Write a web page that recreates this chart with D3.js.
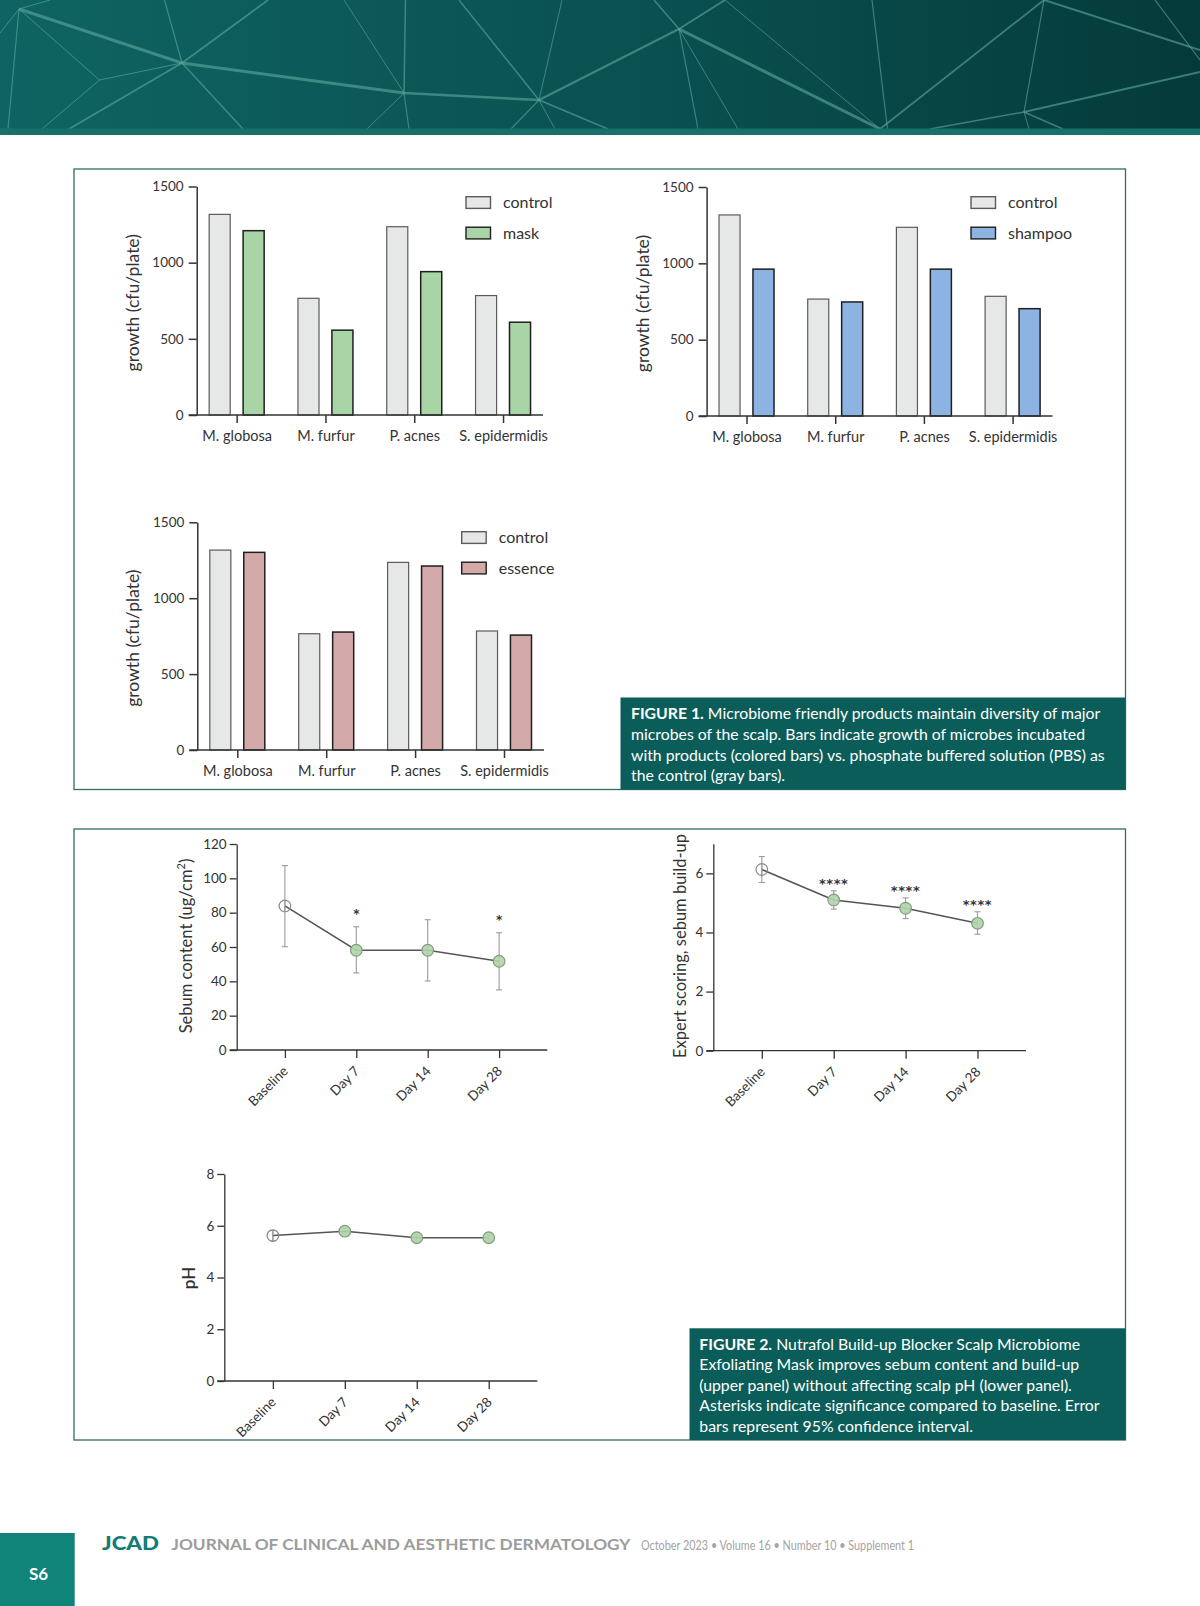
<!DOCTYPE html>
<html>
<head>
<meta charset="utf-8">
<script src="https://cdn.jsdelivr.net/npm/d3@7"></script>
<style>
  body { margin: 0; background: #fff; }
  svg { display: block; font-family: Lato, "Open Sans", sans-serif; }
</style>
</head>
<body>
<script>
// Figure 1: growth of scalp microbes (cfu/plate), control vs. product
const microbes = ["M. globosa", "M. furfur", "P. acnes", "S. epidermidis"];
const controlGrowth = [1317, 766, 1236, 784];
const maskGrowth = [1210, 557, 941, 609];
const shampooGrowth = [962, 747, 962, 703];
const essenceGrowth = [1302, 777, 1212, 757];
const growthTicks = [0, 500, 1000, 1500];

// Figure 2: time course, mean with 95% CI
const timepoints = ["Baseline", "Day 7", "Day 14", "Day 28"];
const sebumMean = [83.9, 58.1, 58.1, 51.7];
const sebumLow = [60.2, 44.9, 40.2, 35.0];
const sebumHigh = [107.4, 71.8, 75.9, 68.3];
const sebumSig = ["", "*", "", "*"];
const sebumTicks = [0, 20, 40, 60, 80, 100, 120];

const expertMean = [6.13, 5.10, 4.82, 4.31];
const expertLow = [5.69, 4.79, 4.47, 3.94];
const expertHigh = [6.57, 5.41, 5.17, 4.70];
const expertSig = ["", "****", "****", "****"];
const expertTicks = [0, 2, 4, 6];

const phMean = [5.62, 5.79, 5.54, 5.54];
const phLow = [5.42, 5.68, 5.44, 5.44];
const phHigh = [5.82, 5.90, 5.64, 5.64];
const phSig = ["", "", "", ""];
const phTicks = [0, 2, 4, 6, 8];

const caption1 = [
    ["FIGURE 1.", " Microbiome friendly products maintain diversity of major"],
    ["", "microbes of the scalp. Bars indicate growth of microbes incubated"],
    ["", "with products (colored bars) vs. phosphate buffered solution (PBS) as"],
    ["", "the control (gray bars)."]
];
const caption2 = [
    ["FIGURE 2.", " Nutrafol Build-up Blocker Scalp Microbiome"],
    ["", "Exfoliating Mask improves sebum content and build-up"],
    ["", "(upper panel) without affecting scalp pH (lower panel)."],
    ["", "Asterisks indicate significance compared to baseline. Error"],
    ["", "bars represent 95% confidence interval."]
];

const svg = d3.select("body").append("svg")
    .attr("width", 1200)
    .attr("height", 1606);

// ---------- header banner ----------
const defs = svg.append("defs");
const grad = defs.append("linearGradient").attr("id", "bannerGrad");
grad.append("stop").attr("offset", "0%").attr("stop-color", "#0e6462");
grad.append("stop").attr("offset", "55%").attr("stop-color", "#0a5050");
grad.append("stop").attr("offset", "100%").attr("stop-color", "#053a3a");

svg.append("rect").attr("x", 0).attr("y", 0).attr("width", 1200).attr("height", 129)
    .attr("fill", "url(#bannerGrad)");

// decorative network lines in the banner
const P = {
    A: [19, 9], B: [182, 63], C: [99.5, 80], D: [404, 93], E: [539, 100],
    F: [679, 29], G: [880, 129], H: [1024, 112], I: [1044, 0]
};
const bannerLines = [
    [P.A, P.B, 3], [P.B, P.D, 3], [P.D, P.E, 2.5], [P.E, P.F, 2.2], [P.F, P.G, 3],
    [P.A, [50, 0], 1], [P.A, [0, 33], 1], [P.A, [8, 129], 1.2], [P.A, P.C, 1],
    [P.C, P.B, 1.2], [P.C, [42, 129], 1], [P.B, [164.5, 0], 1.2], [P.B, [268, 0], 1.8],
    [P.B, [69, 129], 1.8], [P.B, [243, 129], 1.5], [P.D, [344, 0], 1], [P.D, [405.5, 0], 1.5],
    [P.D, [367, 129], 1], [P.D, [409, 129], 1.2], [P.E, [459, 0], 1.5], [P.E, [562, 0], 1],
    [P.E, [511, 129], 1.2], [P.E, [555, 129], 1], [P.E, [608, 129], 1.8], [P.F, [654, 0], 1.5],
    [P.F, [725, 0], 2], [P.F, [698, 129], 1.2], [P.F, [738, 129], 1], [[725, 0], P.G, 1],
    [[872, 0], [887.5, 129], 1.2], [P.G, P.I, 1.8], [P.I, P.H, 1.2], [P.I, [1200, 50], 2],
    [[1155, 0], [1200, 60], 1.2], [P.H, [1200, 72], 2], [[930, 129], P.H, 1.5],
    [P.H, [1029, 129], 1], [P.H, [1063, 129], 1.5]
];
svg.append("g")
    .selectAll("line")
    .data(bannerLines)
    .join("line")
    .attr("x1", d => d[0][0]).attr("y1", d => d[0][1])
    .attr("x2", d => d[1][0]).attr("y2", d => d[1][1])
    .attr("stroke", "#5fa8a0")
    .attr("stroke-opacity", 0.6)
    .attr("stroke-width", d => d[2]);

svg.append("rect").attr("x", 0).attr("y", 128.5).attr("width", 1200).attr("height", 6.5)
    .attr("fill", "#17706c");

// ---------- figure frames ----------
svg.append("rect").attr("x", 74).attr("y", 169).attr("width", 1051.5).attr("height", 620.5)
    .attr("fill", "none").attr("stroke", "#2f6d68").attr("stroke-width", 1.3);
svg.append("rect").attr("x", 74).attr("y", 829).attr("width", 1051.5).attr("height", 611)
    .attr("fill", "none").attr("stroke", "#2f6d68").attr("stroke-width", 1.3);

const fmt = d3.format("d");

// ---------- bar charts ----------
function barChart(o) {
    const g = svg.append("g");
    const x = d3.scalePoint().domain(microbes).range([o.x0, o.x1]).padding(0.45);
    const sub = d3.scaleBand().domain(["control", "product"]).range([-27.5, 27.5]).paddingInner(0.38);
    const y = d3.scaleLinear().domain([0, 1500]).range([o.y0, o.yTop]);

    const rows = microbes.map((m, i) => ({ m: m, control: controlGrowth[i], product: o.values[i] }));

    // bars
    const groups = g.selectAll("g.grp").data(rows).join("g")
        .attr("transform", d => `translate(${x(d.m)},0)`);
    groups.append("rect")
        .attr("x", sub("control")).attr("width", sub.bandwidth())
        .attr("y", d => y(d.control)).attr("height", d => y(0) - y(d.control))
        .attr("fill", "#e6e7e7").attr("stroke", "#5b5b5b").attr("stroke-width", 1.2);
    groups.append("rect")
        .attr("x", sub("product")).attr("width", sub.bandwidth())
        .attr("y", d => y(d.product)).attr("height", d => y(0) - y(d.product))
        .attr("fill", o.color).attr("stroke", "#1f1f1f").attr("stroke-width", 1.5);

    // y axis
    const ya = g.append("g").attr("transform", `translate(${o.x0},0)`)
        .call(d3.axisLeft(y).tickValues(growthTicks).tickFormat(fmt)
            .tickSize(8).tickSizeOuter(0).tickPadding(5));
    ya.select(".domain").attr("stroke", "#333").attr("stroke-width", 1.5);
    ya.selectAll(".tick line").attr("stroke", "#333").attr("stroke-width", 1.5);
    ya.selectAll("text").attr("font-size", 13.5).attr("fill", "#333").attr("font-family", "Lato");

    // x axis
    const xa = g.append("g").attr("transform", `translate(0,${o.y0})`)
        .call(d3.axisBottom(x).tickSize(8).tickPadding(6));
    xa.select(".domain").attr("d", `M${o.x0 - 8},0H${o.x1}`)
        .attr("stroke", "#333").attr("stroke-width", 1.5);
    xa.selectAll(".tick line").attr("stroke", "#333").attr("stroke-width", 1.5);
    xa.selectAll("text").attr("font-size", 14.5).attr("fill", "#333").attr("font-family", "Lato")
        .attr("dy", "0.8em");

    // y label
    g.append("text")
        .attr("transform", `translate(${o.labelX},${(o.y0 + o.yTop) / 2 + 2}) rotate(-90)`)
        .attr("text-anchor", "middle")
        .attr("font-size", 17.5).attr("fill", "#333")
        .text("growth (cfu/plate)");

    // legend
    const leg = [
        { name: "control", fill: "#e6e7e7", stroke: "#5b5b5b" },
        { name: o.name, fill: o.color, stroke: "#1f1f1f" }
    ];
    const lg = g.selectAll("g.leg").data(leg).join("g")
        .attr("transform", (d, i) => `translate(${o.legX},${o.legY + i * 30.5})`);
    lg.append("rect").attr("width", 24.5).attr("height", 11.7)
        .attr("fill", d => d.fill).attr("stroke", d => d.stroke).attr("stroke-width", 1.4);
    lg.append("text").attr("x", 37).attr("y", 11.5)
        .attr("font-size", 16).attr("fill", "#333").text(d => d.name);
}

barChart({ x0: 196.7, x1: 543, y0: 415, yTop: 186.5, values: maskGrowth, color: "#a8d4a6",
    name: "mask", labelX: 139, legX: 466, legY: 196.7 });
barChart({ x0: 706.6, x1: 1052.5, y0: 416, yTop: 187, values: shampooGrowth, color: "#8db3e2",
    name: "shampoo", labelX: 649, legX: 971, legY: 196.7 });
barChart({ x0: 197.3, x1: 544, y0: 750, yTop: 522.3, values: essenceGrowth, color: "#d3a9aa",
    name: "essence", labelX: 139, legX: 461.7, legY: 531.7 });

// ---------- line charts ----------
function lineChart(o) {
    const g = svg.append("g");
    const x = d3.scalePoint().domain(timepoints).range([o.x0, o.x1]).padding(0.675);
    const y = d3.scaleLinear().domain([0, o.max]).range([o.y0, o.yTop]);
    const rows = timepoints.map((t, i) => ({
        t: t, m: o.mean[i], lo: o.low[i], hi: o.high[i], sig: o.sig[i], base: i === 0
    }));

    // axes
    const ya = g.append("g").attr("transform", `translate(${o.x0},0)`)
        .call(d3.axisLeft(y).tickValues(o.ticks).tickFormat(fmt)
            .tickSize(7).tickSizeOuter(0).tickPadding(3));
    ya.select(".domain").attr("stroke", "#333").attr("stroke-width", 1.3);
    ya.selectAll(".tick line").attr("stroke", "#333").attr("stroke-width", 1.3);
    ya.selectAll("text").attr("font-size", 13.5).attr("fill", "#333").attr("font-family", "Lato");

    const xa = g.append("g").attr("transform", `translate(0,${o.y0})`)
        .call(d3.axisBottom(x).tickSize(8).tickFormat(""));
    xa.select(".domain").attr("d", `M${o.x0 - 7},0H${o.x1}`)
        .attr("stroke", "#333").attr("stroke-width", 1.3);
    xa.selectAll(".tick line").attr("stroke", "#333").attr("stroke-width", 1.3);

    g.selectAll("text.cat").data(timepoints).join("text")
        .attr("class", "cat")
        .attr("transform", d => `translate(${x(d) + 4},${o.y0 + 22}) rotate(-45)`)
        .attr("text-anchor", "end")
        .attr("font-size", 13.5).attr("fill", "#333")
        .text(d => d);

    // error bars
    const eb = g.append("g").attr("stroke", "#9a9a9a").attr("stroke-width", 1.1);
    eb.selectAll("line.v").data(rows).join("line")
        .attr("x1", d => x(d.t)).attr("x2", d => x(d.t))
        .attr("y1", d => y(d.lo)).attr("y2", d => y(d.hi));
    eb.selectAll("line.lo").data(rows).join("line")
        .attr("x1", d => x(d.t) - 3).attr("x2", d => x(d.t) + 3)
        .attr("y1", d => y(d.lo)).attr("y2", d => y(d.lo));
    eb.selectAll("line.hi").data(rows).join("line")
        .attr("x1", d => x(d.t) - 3).attr("x2", d => x(d.t) + 3)
        .attr("y1", d => y(d.hi)).attr("y2", d => y(d.hi));

    // mean line
    g.append("path")
        .attr("d", d3.line().x(d => x(d.t)).y(d => y(d.m))(rows))
        .attr("fill", "none").attr("stroke", "#555").attr("stroke-width", 1.5);

    // markers
    g.selectAll("circle").data(rows).join("circle")
        .attr("cx", d => x(d.t)).attr("cy", d => y(d.m)).attr("r", 5.8)
        .attr("fill", d => d.base ? "none" : "#b3d4ac")
        .attr("fill-opacity", d => d.base ? 0 : 0.9)
        .attr("stroke", d => d.base ? "#8a8a8a" : "#7e9e79")
        .attr("stroke-width", 1.2);
    // error bar visible through the open baseline circle
    g.selectAll("line.bx").data(rows.filter(d => d.base)).join("line")
        .attr("x1", d => x(d.t)).attr("x2", d => x(d.t))
        .attr("y1", d => y(d.m) - 5.5).attr("y2", d => y(d.m) + 5.5)
        .attr("stroke", "#9a9a9a").attr("stroke-width", 1.1);

    // significance asterisks
    g.selectAll("text.sig").data(rows.filter(d => d.sig)).join("text")
        .attr("class", "sig")
        .attr("x", d => x(d.t)).attr("y", d => y(d.hi) - o.sigOffset)
        .attr("text-anchor", "middle")
        .attr("font-family", "DejaVu Sans").attr("font-weight", 700)
        .attr("font-size", o.sigSize).attr("fill", "#333")
        .attr("letter-spacing", o.sigSpacing)
        .text(d => d.sig);

    // y label
    const lab = g.append("text")
        .attr("transform", `translate(${o.labelX},${o.labelY}) rotate(-90)`)
        .attr("text-anchor", "middle")
        .attr("font-size", o.labelSize).attr("font-weight", o.labelWeight || 400)
        .attr("fill", "#333");
    lab.append("tspan").text(o.label);
    if (o.sup) {
        lab.append("tspan").attr("dy", -7).attr("font-size", 11).text(o.sup);
        lab.append("tspan").attr("dy", 7).text(")");
    }
}

lineChart({ x0: 236.7, x1: 547.3, y0: 1050, yTop: 844, max: 120, ticks: sebumTicks,
    mean: sebumMean, low: sebumLow, high: sebumHigh, sig: sebumSig,
    sigOffset: 9, sigSize: 12, sigSpacing: 0,
    label: "Sebum content (ug/cm", sup: "2", labelX: 192, labelY: 946, labelSize: 16.5 });
lineChart({ x0: 713.3, x1: 1026, y0: 1050.7, yTop: 843.8, max: 7, ticks: expertTicks,
    mean: expertMean, low: expertLow, high: expertHigh, sig: expertSig,
    sigOffset: 3, sigSize: 13, sigSpacing: 0.6,
    label: "Expert scoring, sebum build-up", labelX: 686, labelY: 946, labelSize: 16.5 });
lineChart({ x0: 224.3, x1: 537.3, y0: 1381, yTop: 1174, max: 8, ticks: phTicks,
    mean: phMean, low: phLow, high: phHigh, sig: phSig,
    sigOffset: 3, sigSize: 12, sigSpacing: 1,
    label: "pH", labelX: 195, labelY: 1278, labelSize: 17, labelWeight: 600 });

// ---------- captions ----------
function caption(lines, x, y, w, h, tx, ty) {
    svg.append("rect").attr("x", x).attr("y", y).attr("width", w).attr("height", h)
        .attr("fill", "#0b5d59");
    const t = svg.append("g").selectAll("text").data(lines).join("text")
        .attr("x", tx).attr("y", (d, i) => ty + i * 20.6)
        .attr("font-size", 15.8).attr("fill", "#fff");
    t.append("tspan").attr("font-weight", 700).text(d => d[0]);
    t.append("tspan").text(d => d[1]);
}
caption(caption1, 620.5, 697.5, 505, 92, 631, 719.3);
caption(caption2, 689.5, 1328.3, 436, 111.7, 699.3, 1349.5);

// ---------- footer ----------
svg.append("rect").attr("x", 0).attr("y", 1533).attr("width", 74.7).attr("height", 73)
    .attr("fill", "#11847a");
svg.append("text").attr("x", 38.5).attr("y", 1579.5).attr("text-anchor", "middle")
    .attr("font-size", 17).attr("font-weight", 700).attr("fill", "#fff").text("S6");
svg.append("text").attr("x", 102).attr("y", 1550).attr("font-size", 19.5)
    .attr("font-weight", 900).attr("fill", "#137c73")
    .attr("textLength", 57).attr("lengthAdjust", "spacingAndGlyphs").text("JCAD");
svg.append("text").attr("x", 171.5).attr("y", 1550).attr("font-size", 14.5)
    .attr("font-weight", 700).attr("fill", "#9c9c9c")
    .attr("textLength", 459).attr("lengthAdjust", "spacingAndGlyphs")
    .text("JOURNAL OF CLINICAL AND AESTHETIC DERMATOLOGY");
svg.append("text").attr("x", 641).attr("y", 1549.5).attr("font-size", 13.5)
    .attr("fill", "#a3a3a3")
    .attr("textLength", 273).attr("lengthAdjust", "spacingAndGlyphs")
    .text("October 2023 \u2022 Volume 16 \u2022 Number 10 \u2022 Supplement 1");
</script>
</body>
</html>
